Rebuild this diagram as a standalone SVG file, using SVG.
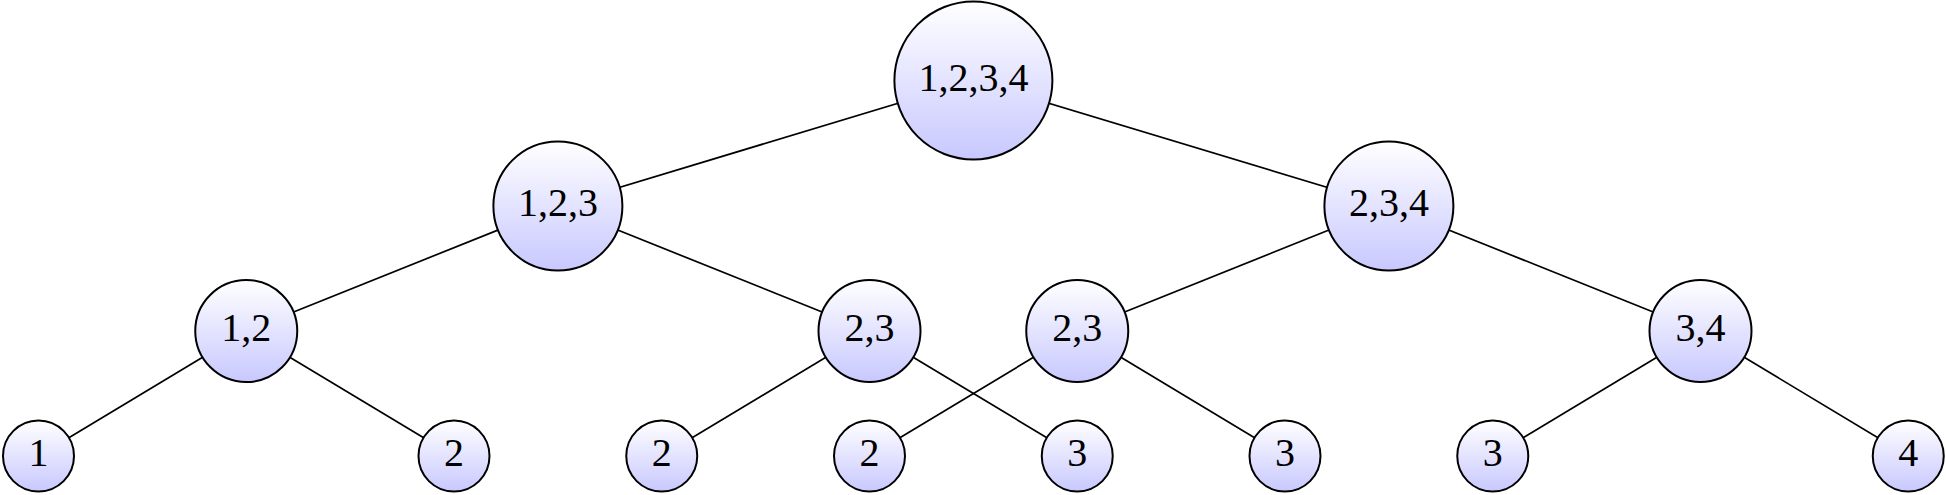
<svg xmlns="http://www.w3.org/2000/svg" width="1946" height="495" viewBox="0 0 1946 495">
<defs>
<linearGradient id="g" x1="0" y1="0" x2="0" y2="1">
<stop offset="0" stop-color="#ffffff"/>
<stop offset="1" stop-color="#c8c8ff"/>
</linearGradient>
<style>
.n circle{fill:url(#g);stroke:#000;stroke-width:2}
.n text{font-family:"Liberation Serif","DejaVu Serif",serif;font-size:40px;text-anchor:middle;fill:#000}
#edges line{stroke:#000;stroke-width:1.7}
</style>
</defs>
<rect width="1946" height="495" fill="#fff"/>
<g id="edges">
<line x1="973.4" y1="80.5" x2="557.9" y2="206"/>
<line x1="973.4" y1="80.5" x2="1388.9" y2="206"/>
<line x1="557.9" y1="206" x2="246.25" y2="331"/>
<line x1="557.9" y1="206" x2="869.5" y2="331"/>
<line x1="1388.9" y1="206" x2="1077.25" y2="331"/>
<line x1="1388.9" y1="206" x2="1700.5" y2="331"/>
<line x1="246.25" y1="331" x2="38.5" y2="456"/>
<line x1="246.25" y1="331" x2="454" y2="456"/>
<line x1="869.5" y1="331" x2="661.75" y2="456"/>
<line x1="869.5" y1="331" x2="1077.25" y2="456"/>
<line x1="1077.25" y1="331" x2="869.5" y2="456"/>
<line x1="1077.25" y1="331" x2="1285" y2="456"/>
<line x1="1700.5" y1="331" x2="1492.75" y2="456"/>
<line x1="1700.5" y1="331" x2="1908.25" y2="456"/>
</g>
<g id="n1234" class="n"><circle cx="973.4" cy="80.5" r="79"/><text x="973.4" y="91">1,2,3,4</text></g>
<g id="n123" class="n"><circle cx="557.9" cy="206" r="64.5"/><text x="557.9" y="216">1,2,3</text></g>
<g id="n234" class="n"><circle cx="1388.9" cy="206" r="64.5"/><text x="1388.9" y="216">2,3,4</text></g>
<g id="n12" class="n"><circle cx="246.25" cy="331" r="51"/><text x="246.25" y="341">1,2</text></g>
<g id="n23a" class="n"><circle cx="869.5" cy="331" r="51"/><text x="869.5" y="341">2,3</text></g>
<g id="n23b" class="n"><circle cx="1077.25" cy="331" r="51"/><text x="1077.25" y="341">2,3</text></g>
<g id="n34" class="n"><circle cx="1700.5" cy="331" r="51"/><text x="1700.5" y="341">3,4</text></g>
<g id="l1" class="n"><circle cx="38.5" cy="456" r="35.5"/><text x="38.5" y="466">1</text></g>
<g id="l2a" class="n"><circle cx="454" cy="456" r="35.5"/><text x="454" y="466">2</text></g>
<g id="l2b" class="n"><circle cx="661.75" cy="456" r="35.5"/><text x="661.75" y="466">2</text></g>
<g id="l2c" class="n"><circle cx="869.5" cy="456" r="35.5"/><text x="869.5" y="466">2</text></g>
<g id="l3a" class="n"><circle cx="1077.25" cy="456" r="35.5"/><text x="1077.25" y="466">3</text></g>
<g id="l3b" class="n"><circle cx="1285" cy="456" r="35.5"/><text x="1285" y="466">3</text></g>
<g id="l3c" class="n"><circle cx="1492.75" cy="456" r="35.5"/><text x="1492.75" y="466">3</text></g>
<g id="l4" class="n"><circle cx="1908.25" cy="456" r="35.5"/><text x="1908.25" y="466">4</text></g>
</svg>
